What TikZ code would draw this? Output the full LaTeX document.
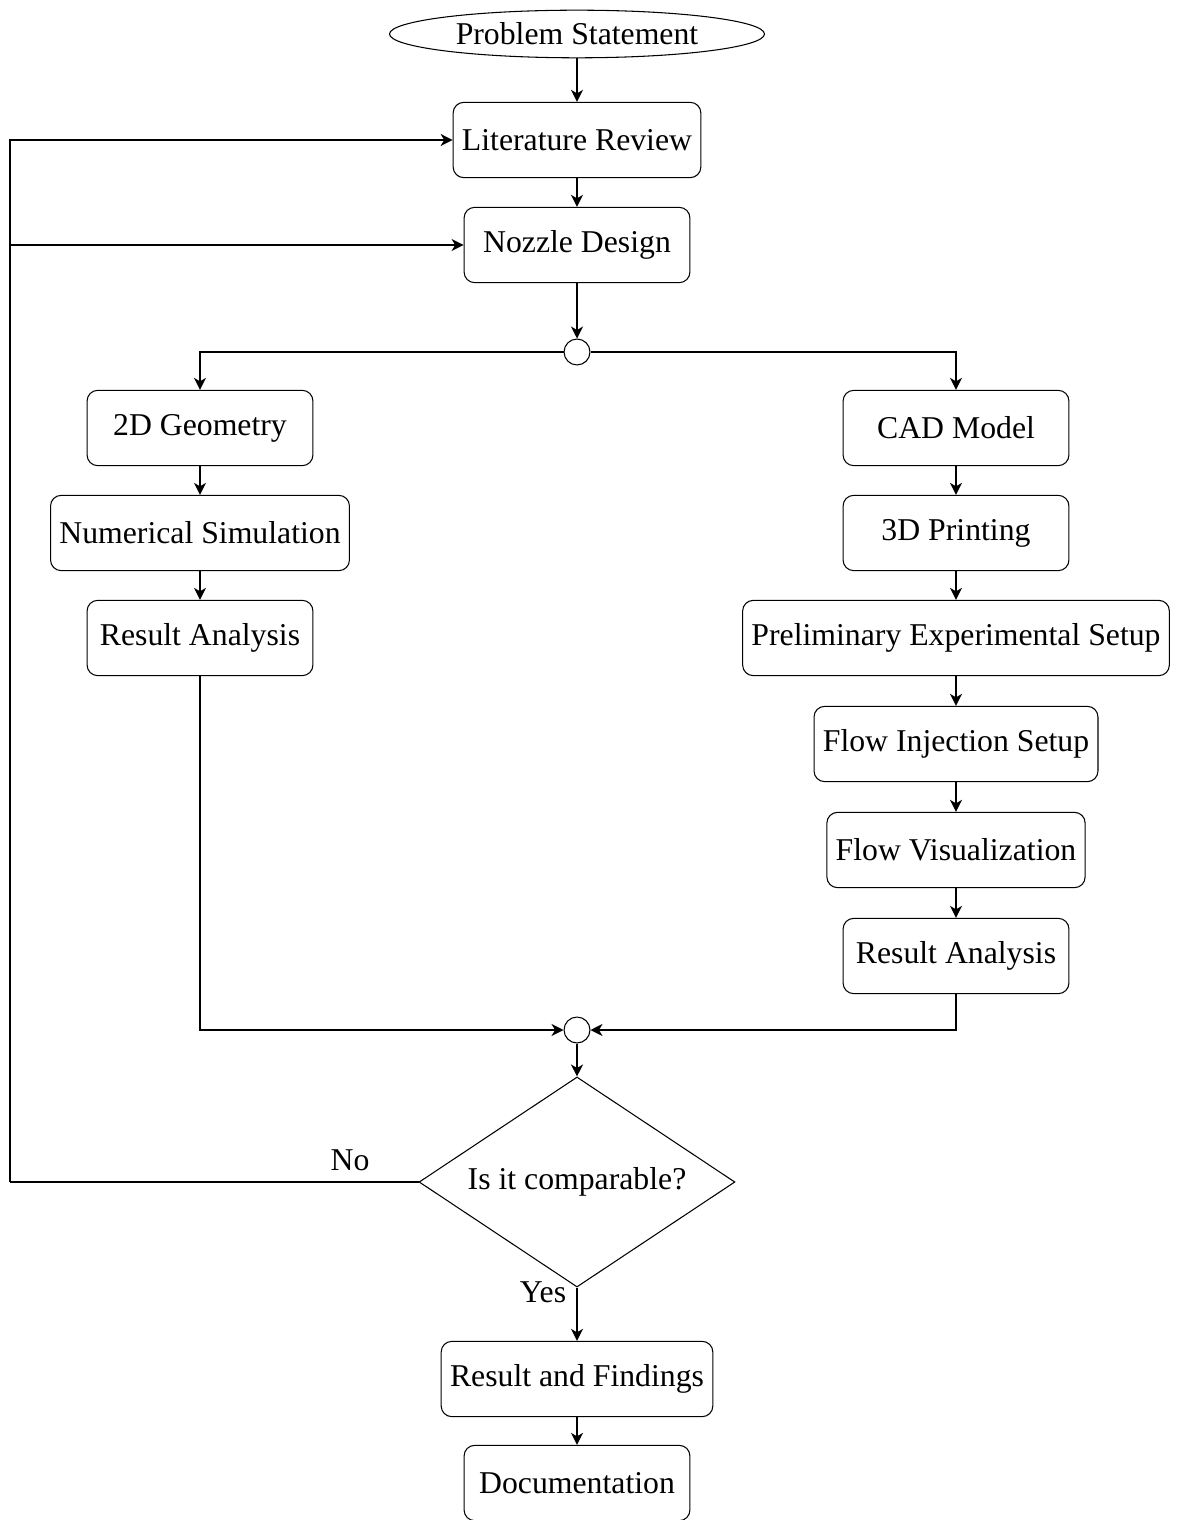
\documentclass[tikz,border=0pt]{standalone}
\usepackage{fontspec}
\setmainfont{Liberation Serif}
\usetikzlibrary{shapes.geometric,arrows.meta}
\begin{document}
\begin{tikzpicture}[x=0.378pt,y=-0.378pt,
  font=\fontsize{12}{14}\selectfont,
  box/.style={draw, rounded corners=4pt, minimum width=3cm, minimum height=1cm, align=center},
  startnode/.style={draw, ellipse, inner sep=0pt, minimum width=141.75pt, minimum height=18pt},
  decnode/.style={draw, diamond, aspect=1.5, inner sep=0pt, minimum width=119.4pt, minimum height=79.4pt},
  junc/.style={draw, circle, inner sep=0pt, minimum size=9.8pt},
  conn/.style={thick, -{Stealth[length=4.5pt,width=4.5pt,inset=1.3pt]}},
  plain/.style={thick}]
\useasboundingbox (0,0) rectangle (1178,1520);

\node[startnode] (ps) at (577,34) {Problem Statement};
\node[box] (lit) at (577,140) {Literature Review};
\node[box] (noz) at (577,245) {Nozzle Design};
\node[junc] (j1) at (577,352) {};

\node[box] (geo) at (200,428) {2D Geometry};
\node[box] (num) at (200,533) {Numerical Simulation};
\node[box] (resL) at (200,638) {Result Analysis};

\node[box] (cad) at (956,428) {CAD Model};
\node[box] (prt) at (956,533) {3D Printing};
\node[box] (pre) at (956,638) {Preliminary Experimental Setup};
\node[box] (inj) at (956,744) {Flow Injection Setup};
\node[box] (vis) at (956,850) {Flow Visualization};
\node[box] (resR) at (956,956) {Result Analysis};

\node[junc] (j2) at (577,1030) {};
\node[decnode] (dec) at (577,1182) {Is it comparable?};
\node[box] (find) at (577,1379) {Result and Findings};
\node[box] (doc) at (577,1483) {Documentation};

\coordinate (fb) at (10,1182);

\draw[conn] (ps) -- (lit);
\draw[conn] (lit) -- (noz);
\draw[conn] (noz) -- (j1);
\draw[conn] (j1.west) -| (geo.north);
\draw[conn] (j1.east) -| (cad.north);
\draw[conn] (geo) -- (num);
\draw[conn] (num) -- (resL);
\draw[conn] (cad) -- (prt);
\draw[conn] (prt) -- (pre);
\draw[conn] (pre) -- (inj);
\draw[conn] (inj) -- (vis);
\draw[conn] (vis) -- (resR);
\draw[conn] (resL.south) |- (j2.west);
\draw[conn] (resR.south) |- (j2.east);
\draw[conn] (j2) -- (dec);
\draw[conn] (dec) -- (find);
\draw[conn] (find) -- (doc);

\draw[plain] (dec.west) -- (fb);
\draw[conn] (fb) |- (lit.west);
\draw[conn] (fb) |- (noz.west);

\node (no) at (350,1160) {No};
\node (yes) at (543,1292) {Yes};
\end{tikzpicture}
\end{document}
